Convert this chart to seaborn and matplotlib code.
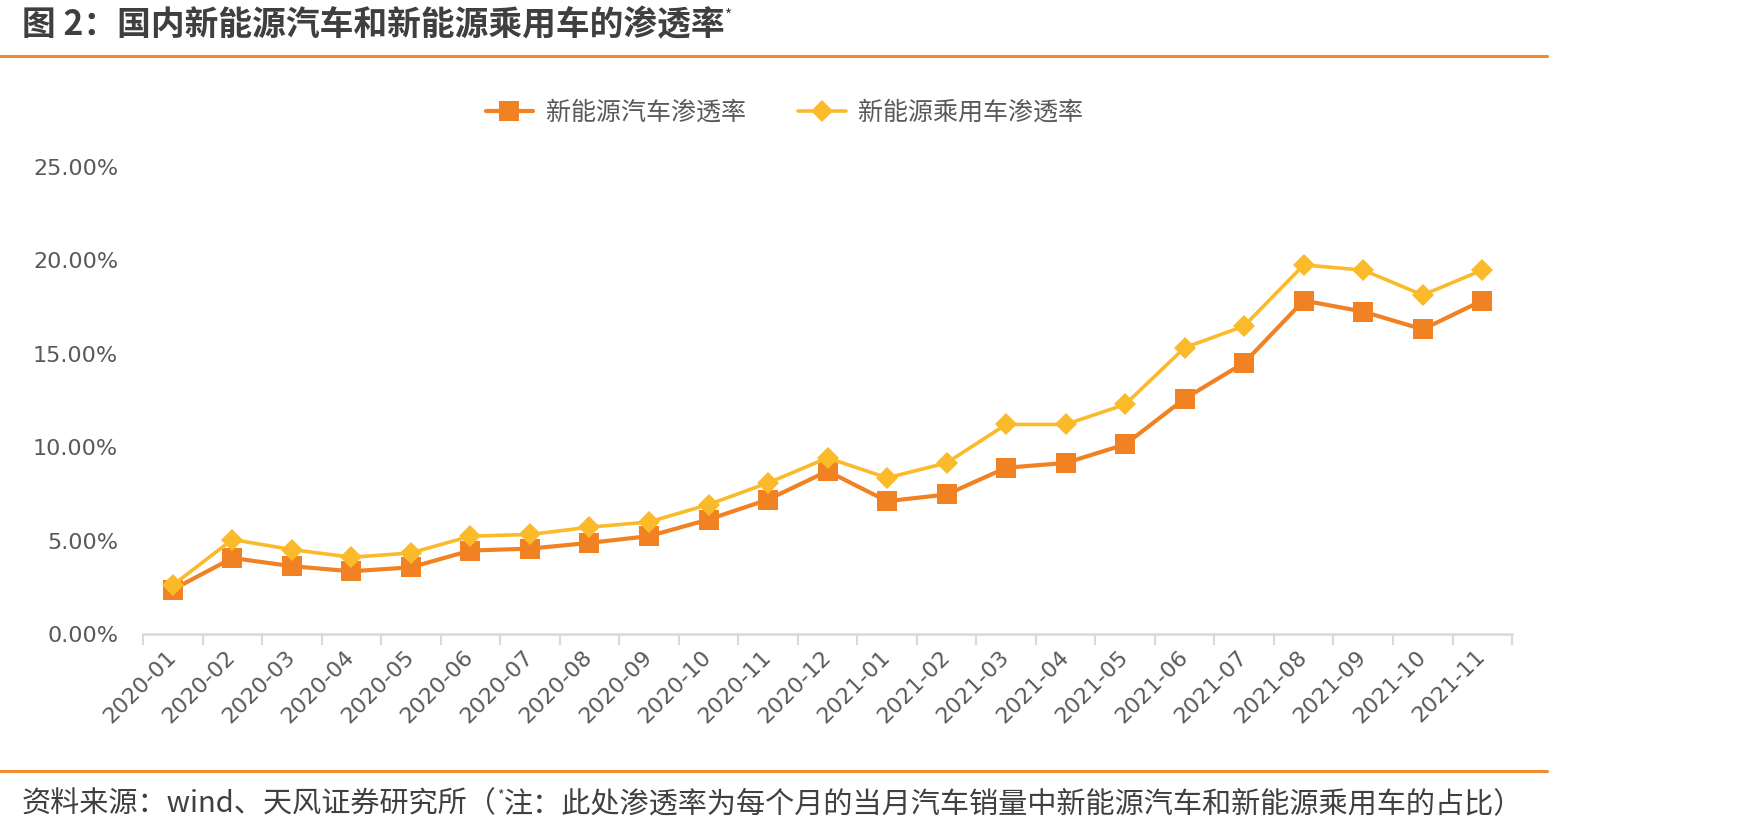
import numpy as np
import pandas as pd
import matplotlib
matplotlib.use("Agg")
import matplotlib.pyplot as plt
from matplotlib.lines import Line2D
import seaborn as sns

# ---------------- data ----------------
months = ["2020-01", "2020-02", "2020-03", "2020-04", "2020-05", "2020-06",
          "2020-07", "2020-08", "2020-09", "2020-10", "2020-11", "2020-12",
          "2021-01", "2021-02", "2021-03", "2021-04", "2021-05", "2021-06",
          "2021-07", "2021-08", "2021-09", "2021-10", "2021-11"]
nev_all = [2.38, 4.07, 3.63, 3.36, 3.57, 4.47, 4.57, 4.88, 5.24, 6.13, 7.20, 8.72,
           7.11, 7.47, 8.90, 9.16, 10.15, 12.60, 14.52, 17.85, 17.26, 16.31, 17.85]
nev_pass = [2.62, 5.06, 4.52, 4.11, 4.34, 5.24, 5.33, 5.72, 6.00, 6.93, 8.09, 9.43,
            8.36, 9.16, 11.22, 11.22, 12.29, 15.33, 16.49, 19.76, 19.48, 18.15, 19.48]
series_names = ["新能源汽车渗透率", "新能源乘用车渗透率"]
yticks = [0, 5, 10, 15, 20, 25]
title = "图 2：国内新能源汽车和新能源乘用车的渗透率"
source = "资料来源：wind、天风证券研究所（"
note = "注：此处渗透率为每个月的当月汽车销量中新能源汽车和新能源乘用车的占比）"

colors = ["#F18223", "#FBBA2A"]

df = pd.DataFrame({
    "month": months * 2,
    "value": [v / 100 for v in nev_all] + [v / 100 for v in nev_pass],
    "series": [series_names[0]] * len(months) + [series_names[1]] * len(months),
})

sns.set_theme(style="white")
plt.rcParams["font.family"] = ["Noto Sans CJK SC", "DejaVu Sans"]

fig = plt.figure(figsize=(17.47, 8.36), dpi=100)
ax = fig.add_axes([0.0819, 0.2416, 0.7836, 0.5586])

sns.pointplot(data=df, x="month", y="value", hue="series", order=months,
              hue_order=series_names, palette=colors, markers=["s", "D"],
              linestyles=["-", "-"], ax=ax, legend=False, errorbar=None)

# style lines
ln_all, ln_pass = [l for l in ax.lines if len(l.get_xdata()) > 1][:2]
ln_all.set_linewidth(3.0)
ln_all.set_markersize(14)
ln_all.set_zorder(3)
ln_pass.set_linewidth(2.6)
ln_pass.set_markersize(11)
ln_pass.set_zorder(4)
for l in (ln_all, ln_pass):
    l.set_markeredgewidth(0)

ax.set_xlim(-0.5, len(months) - 0.5)
ax.set_ylim(0, 0.25)
ax.set_yticks([t / 100 for t in yticks])
ax.set_yticklabels([f"{t:.2f}%" for t in yticks], family="DejaVu Sans",
                   fontsize=16, color="#595959")
ax.tick_params(axis="y", length=0, pad=18)
ax.set_xticks(range(len(months)))
ax.set_xticklabels(months, rotation=45, ha="right", va="center",
                   rotation_mode="anchor", family="DejaVu Sans",
                   fontsize=16, color="#595959")
ax.tick_params(axis="x", which="major", length=0, pad=14)
ax.set_xticks(np.arange(-0.5, len(months), 1.0), minor=True)
ax.tick_params(axis="x", which="minor", length=8, width=1.5, color="#D9D9D9",
               direction="out", bottom=True)
ax.set_xlabel("")
ax.set_ylabel("")
for s in ["top", "right", "left"]:
    ax.spines[s].set_visible(False)
ax.spines["bottom"].set_color("#D9D9D9")
ax.spines["bottom"].set_linewidth(1.8)
ax.grid(False)

# legend
handles = [
    Line2D([], [], color=colors[0], lw=3.0, marker="s", markersize=14, markeredgewidth=0),
    Line2D([], [], color=colors[1], lw=2.6, marker="D", markersize=11, markeredgewidth=0),
]
fig.legend(handles, series_names, loc="center", bbox_to_anchor=(0.449, 0.865),
           ncol=2, frameon=False, fontsize=18, handlelength=1.9,
           handletextpad=0.5, columnspacing=2.1, labelcolor="#595959")

# title, rules, footer
tt = fig.text(22 / 1747, 1 - 25 / 836, title, fontsize=24.3, fontweight="bold",
              color="#3F3F3F", va="center", ha="left")
fig.add_artist(Line2D([0, 1547 / 1747], [1 - 56 / 836] * 2, color="#F28A30", lw=2.2))
fig.add_artist(Line2D([0, 1547 / 1747], [1 - 771 / 836] * 2, color="#F28A30", lw=2.2))
t1 = fig.text(22 / 1747, 1 - 804 / 836, source, fontsize=21, color="#404040",
              va="center", ha="left")
fig.canvas.draw()
bbt = tt.get_window_extent()
fig.text(bbt.x1 / fig.bbox.width, 1 - 16 / 836, "*", fontsize=11, color="#3F3F3F",
         va="center", ha="left")
bb = t1.get_window_extent()
x1 = bb.x1 / fig.bbox.width
t2 = fig.text(x1, 1 - 795 / 836, "*", fontsize=10, color="#404040", va="center", ha="left")
fig.canvas.draw()
bb2 = t2.get_window_extent()
fig.text(bb2.x1 / fig.bbox.width, 1 - 804 / 836, note, fontsize=21, color="#404040",
         va="center", ha="left")

fig.savefig("out.png", dpi=100, facecolor="white")
